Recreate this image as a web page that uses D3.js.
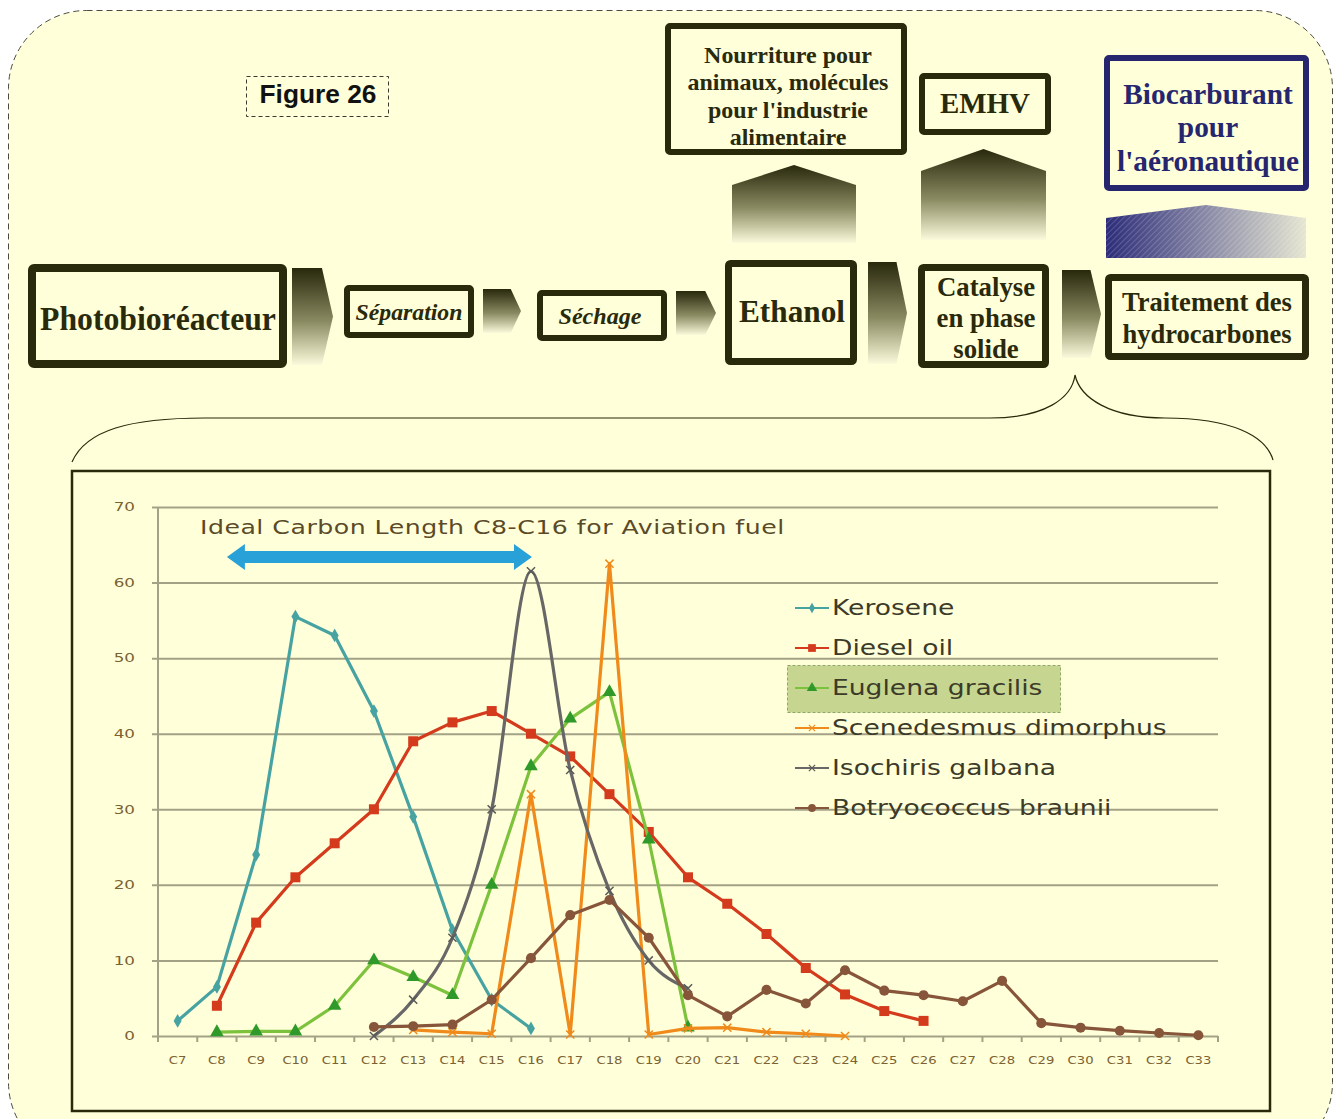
<!DOCTYPE html>
<html>
<head>
<meta charset="utf-8">
<script src="https://cdn.jsdelivr.net/npm/d3@7"></script>
<style>
  body { margin: 0; background: #fff; }
</style>
</head>
<body>
<svg id="fig" width="1336" height="1119"></svg>
<script>
// ---- chart data ----
const categories = d3.range(7, 34).map(n => "C" + n);
const yTicks = [0, 10, 20, 30, 40, 50, 60, 70];
const seriesNames = ["Kerosene", "Diesel oil", "Euglena gracilis", "Scenedesmus dimorphus", "Isochiris galbana", "Botryococcus braunii"];
const seriesStart = ["C7", "C8", "C8", "C13", "C12", "C12"];

const kerosene = [2, 6.5, 24, 55.5, 53, 43, 29, 14, 4.8, 1];
const diesel = [4, 15, 21, 25.5, 30, 39, 41.5, 43, 40, 37, 32, 27, 21, 17.5, 13.5, 9, 5.5, 3.3, 2];
const euglena = [0.5, 0.6, 0.6, 4, 10, 7.8, 5.4, 20, 35.7, 42, 45.5, 26, 1.1];
const scenedesmus = [0.8, 0.5, 0.3, 32, 0.2, 62.5, 0.2, 1, 1.1, 0.5, 0.3, 0];
const isochiris = [0, 4.8, 13, 30, 61.5, 35.2, 19.2, 10, 6.3];
const botryococcus = [1.2, 1.3, 1.5, 4.8, 10.3, 16, 18, 13, 5.4, 2.6, 6.1, 4.3, 8.7, 6, 5.4, 4.6, 7.3, 1.7, 1.1, 0.7, 0.4, 0.1];

const annotation = "Ideal Carbon Length C8-C16 for Aviation fuel";
const arrowRange = ["C8", "C16"];

// ---- diagram texts ----
const figLabel = "Figure 26";

const svg = d3.select("#fig");
const BG = "#ffffd9";
const INK = "#29290c";
const BLUE_INK = "#26266f";

const defs = svg.append("defs");
const gDark = defs.append("linearGradient").attr("id", "gDark")
  .attr("x1", 0).attr("y1", 0).attr("x2", 0).attr("y2", 1);
gDark.append("stop").attr("offset", "0%").attr("stop-color", "#28280c");
gDark.append("stop").attr("offset", "55%").attr("stop-color", "#8a8a62");
gDark.append("stop").attr("offset", "100%").attr("stop-color", "#fbfbdc");

const gBlue = defs.append("linearGradient").attr("id", "gBlue")
  .attr("x1", 0).attr("y1", 0).attr("x2", 1).attr("y2", 0);
gBlue.append("stop").attr("offset", "0%").attr("stop-color", "#2c2c7a");
gBlue.append("stop").attr("offset", "100%").attr("stop-color", "#e6e6d2");

const hatch = defs.append("pattern").attr("id", "hatch")
  .attr("width", 4).attr("height", 4).attr("patternUnits", "userSpaceOnUse")
  .attr("patternTransform", "rotate(45)");
hatch.append("line").attr("x1", 0).attr("y1", 0).attr("x2", 0).attr("y2", 4)
  .attr("stroke", "#ffffff").attr("stroke-opacity", 0.35).attr("stroke-width", 1);

// outer dashed frame
svg.append("rect")
  .attr("x", 8.5).attr("y", 10.5).attr("width", 1324).attr("height", 1150)
  .attr("rx", 78).attr("ry", 78)
  .attr("fill", BG).attr("stroke", "#4a4a40").attr("stroke-width", 1)
  .attr("stroke-dasharray", "6,4");

// ---- helpers ----
function box(x0, y0, x1, y1, sw, color) {
  svg.append("rect")
    .attr("x", x0 + sw / 2).attr("y", y0 + sw / 2)
    .attr("width", x1 - x0 - sw).attr("height", y1 - y0 - sw)
    .attr("rx", 2)
    .attr("fill", BG).attr("stroke", color || INK).attr("stroke-width", sw);
}

// multi-line label squeezed horizontally so widest line = width
function label(lines, cx, cy, size, lh, width, opts) {
  opts = opts || {};
  const g = svg.append("g");
  const t = g.append("text")
    .attr("text-anchor", "middle")
    .attr("font-family", opts.family || "'Liberation Serif', 'Times New Roman', serif")
    .attr("font-weight", "bold")
    .attr("font-style", opts.italic ? "italic" : "normal")
    .attr("font-size", size)
    .attr("fill", opts.color || INK);
  const y0 = cy - (lines.length - 1) * lh / 2;
  lines.forEach((s, i) => {
    t.append("tspan").attr("x", 0).attr("y", y0 + i * lh).attr("dy", "0.35em").text(s);
  });
  let w = 0;
  t.selectAll("tspan").each(function () { w = Math.max(w, this.getComputedTextLength()); });
  const sx = width / w;
  g.attr("transform", `translate(${cx},0) scale(${sx},1)`);
  return g;
}

function chevron(x0, y0, x1, y1) {
  const k = (x1 - x0) * 0.27;
  const pts = [[x0, y0], [x1 - k, y0], [x1, (y0 + y1) / 2], [x1 - k, y1], [x0, y1]];
  svg.append("path").attr("d", d3.line()(pts) + "Z").attr("fill", "url(#gDark)");
}

function house(x0, x1, yTop, yShoulder, yBottom, fill) {
  const pts = [[x0, yBottom], [x0, yShoulder], [(x0 + x1) / 2, yTop], [x1, yShoulder], [x1, yBottom]];
  const p = d3.line()(pts) + "Z";
  svg.append("path").attr("d", p).attr("fill", fill);
  return p;
}

// ---- flow diagram ----
box(28, 264, 287, 368, 8);
box(344, 285, 474, 338, 6);
box(537, 290, 667, 341, 6);
box(725, 260, 857, 365, 7);
box(918, 264, 1049, 368, 7);
box(1105, 274, 1309, 360, 7);
box(665, 23, 907, 155, 6);
box(919, 73, 1051, 135, 6);
box(1104, 55, 1309, 191, 6, BLUE_INK);

chevron(292, 268, 333, 365);
chevron(483, 289, 521, 333);
chevron(676, 291, 716, 335);
chevron(868, 262, 907, 364);
chevron(1062, 270, 1101, 358);

house(732, 856, 165, 185, 243, "url(#gDark)");
house(921, 1046, 149, 171, 240, "url(#gDark)");
const bp = house(1106, 1306, 205, 218, 258, "url(#gBlue)");
svg.append("path").attr("d", bp).attr("fill", "url(#hatch)");

label(["Photobioréacteur"], 158, 318, 34, 0, 236);
label(["Séparation"], 409, 312, 24, 0, 107, { italic: true });
label(["Séchage"], 600, 316, 24, 0, 83, { italic: true });
label(["Ethanol"], 792, 311, 32, 0, 106);
label(["Catalyse", "en phase", "solide"], 986, 318, 27, 31, 99);
label(["Traitement des", "hydrocarbones"], 1207, 318, 27, 32, 170);
label(["Nourriture pour", "animaux, molécules", "pour l'industrie", "alimentaire"], 788, 96, 23, 27.5, 201);
label(["EMHV"], 985, 103, 30, 0, 90);
label(["Biocarburant", "pour", "l'aéronautique"], 1208, 127, 30, 33.5, 182, { color: BLUE_INK });

// Figure label in dashed box
svg.append("rect").attr("x", 246.5).attr("y", 76.5).attr("width", 142).attr("height", 40)
  .attr("fill", "none").attr("stroke", "#3a3a30").attr("stroke-width", 1).attr("stroke-dasharray", "4,3");
label([figLabel], 318, 94, 25, 0, 117, { family: "'Liberation Sans', Arial, sans-serif", color: "#111" });

// brace
svg.append("path")
  .attr("d", "M72,462 C86,430 130,418 205,418 L990,418 C1045,418 1072,398 1075,375 C1080,398 1110,418 1165,418 C1232,418 1266,436 1273,460")
  .attr("fill", "none").attr("stroke", INK).attr("stroke-width", 1.2);

// ---- chart ----
svg.append("rect").attr("x", 72).attr("y", 471).attr("width", 1198).attr("height", 640)
  .attr("fill", BG).attr("stroke", INK).attr("stroke-width", 2.5);

const x = d3.scalePoint().domain(categories).range([158, 1218]).padding(0.5);
const band = d3.scaleBand().domain(categories).range([158, 1218]);
const y = d3.scaleLinear().domain([0, 70]).range([1036, 507]);

const GRID = "#a3a286";
const TICK_TXT = "#7a6232";
const chart = svg.append("g");

// gridlines + y labels via axis
const yAxisG = chart.append("g").attr("transform", "translate(158,0)")
  .call(d3.axisLeft(y).tickValues(yTicks).tickSize(-(1218 - 158)).tickPadding(24));
yAxisG.select(".domain").remove();
yAxisG.selectAll(".tick line").attr("x1", -6).attr("stroke", GRID).attr("stroke-width", 2);
yAxisG.selectAll(".tick text")
  .attr("x", 0)
  .attr("transform", "translate(-23,0) scale(1.4,1)")
  .attr("font-family", "'DejaVu Sans', Verdana, sans-serif")
  .attr("font-size", 12).attr("fill", TICK_TXT);
chart.append("line").attr("x1", 158).attr("x2", 158).attr("y1", y(70)).attr("y2", y(0) + 6)
  .attr("stroke", GRID).attr("stroke-width", 2);

// x ticks at band edges
chart.selectAll(".xtick").data(categories.concat(["end"])).join("line")
  .attr("class", "xtick")
  .attr("x1", d => d === "end" ? 1218 : band(d)).attr("x2", d => d === "end" ? 1218 : band(d))
  .attr("y1", y(0)).attr("y2", y(0) + 6)
  .attr("stroke", GRID).attr("stroke-width", 2);

chart.selectAll(".xlab").data(categories).join("text")
  .attr("class", "xlab")
  .attr("transform", d => `translate(${x(d)},1064) scale(1.2,1)`)
  .attr("text-anchor", "middle")
  .attr("font-family", "'DejaVu Sans', Verdana, sans-serif")
  .attr("font-size", 11).attr("fill", TICK_TXT)
  .text(d => d);

// annotation
const ann = chart.append("text")
  .attr("font-family", "'DejaVu Sans', Verdana, sans-serif")
  .attr("font-size", 20).attr("fill", "#5a4a28")
  .attr("letter-spacing", 0.4)
  .text(annotation);
const annW = ann.node().getComputedTextLength();
ann.attr("transform", `translate(200,534) scale(${585 / annW},1)`);

// double arrow C8..C16
const ax0 = x(arrowRange[0]) + 10, ax1 = x(arrowRange[1]) + 1, ay = 557;
const dbl = [[ax0, ay], [ax0 + 18, ay - 13], [ax0 + 18, ay - 6], [ax1 - 18, ay - 6], [ax1 - 18, ay - 13], [ax1, ay],
  [ax1 - 18, ay + 13], [ax1 - 18, ay + 6], [ax0 + 18, ay + 6], [ax0 + 18, ay + 13]];
chart.append("path").attr("d", d3.line()(dbl) + "Z").attr("fill", "#28a1d9");

// series
const seriesValues = [kerosene, diesel, euglena, scenedesmus, isochiris, botryococcus];
const lineColor = ["#47a2a2", "#d43a1c", "#7dc23d", "#ef8a1b", "#676767", "#86553a"];
const markColor = ["#47a2a2", "#d43a1c", "#2f9a2a", "#ef8a1b", "#5a5a5a", "#86553a"];
const timesSym = d3.symbolTimes || d3.symbolCross;
const symType = [d3.symbolDiamond, d3.symbolSquare, d3.symbolTriangle, timesSym, timesSym, d3.symbolCircle];
const symSize = [55, 100, 80, 45, 45, 80];
const strokeSym = [false, false, false, true, true, false];

const series = seriesNames.map((name, i) => {
  const s0 = categories.indexOf(seriesStart[i]);
  return {
    name, i,
    points: seriesValues[i].map((v, j) => ({ cat: categories[s0 + j], v }))
  };
});

const lineGen = d3.line().x(d => x(d.cat)).y(d => y(d.v));
const smoothGen = d3.line().x(d => x(d.cat)).y(d => y(d.v)).curve(d3.curveMonotoneX);

const sg = chart.selectAll(".series").data(series).join("g").attr("class", "series");
sg.append("path")
  .attr("d", d => (d.i === 4 ? smoothGen : lineGen)(d.points))
  .attr("fill", "none")
  .attr("stroke", d => lineColor[d.i])
  .attr("stroke-width", 3.2)
  .attr("stroke-linejoin", "round");

function drawMark(sel, i) {
  sel.attr("d", d3.symbol().type(symType[i]).size(symSize[i])())
    .attr("fill", strokeSym[i] ? "none" : markColor[i])
    .attr("stroke", strokeSym[i] ? markColor[i] : "none")
    .attr("stroke-width", 1.5);
}
sg.each(function (d) {
  d3.select(this).selectAll("path.mk").data(d.points).join("path")
    .attr("class", "mk")
    .attr("transform", p => `translate(${x(p.cat)},${y(p.v)})`)
    .call(drawMark, d.i);
});

// legend
const lg = chart.append("g");
lg.append("rect").attr("x", 787.5).attr("y", 665.5).attr("width", 273).attr("height", 47)
  .attr("fill", "#c6d690").attr("stroke", "#8fa866").attr("stroke-dasharray", "3,2");
const ly = i => 608 + i * 40;
seriesNames.forEach((name, i) => {
  lg.append("line").attr("x1", 795).attr("x2", 829).attr("y1", ly(i)).attr("y2", ly(i))
    .attr("stroke", lineColor[i]).attr("stroke-width", 2);
  lg.append("path").attr("transform", `translate(812,${ly(i)})`)
    .call(sel => {
      sel.attr("d", d3.symbol().type(symType[i]).size(symSize[i] * 0.6)())
        .attr("fill", strokeSym[i] ? "none" : markColor[i])
        .attr("stroke", strokeSym[i] ? markColor[i] : "none").attr("stroke-width", 1.2);
    });
});
const legText = lg.selectAll(".lt").data(seriesNames).join("text")
  .attr("class", "lt")
  .attr("font-family", "'DejaVu Sans', Verdana, sans-serif")
  .attr("font-size", 20.5).attr("fill", "#3c3a28")
  .text(d => d);
const refW = legText.filter(d => d === "Scenedesmus dimorphus").node().getComputedTextLength();
const lsx = 335 / refW;
legText.attr("transform", (d, i) => `translate(832,${ly(i) + 7}) scale(${lsx},1)`);
</script>
</body>
</html>
